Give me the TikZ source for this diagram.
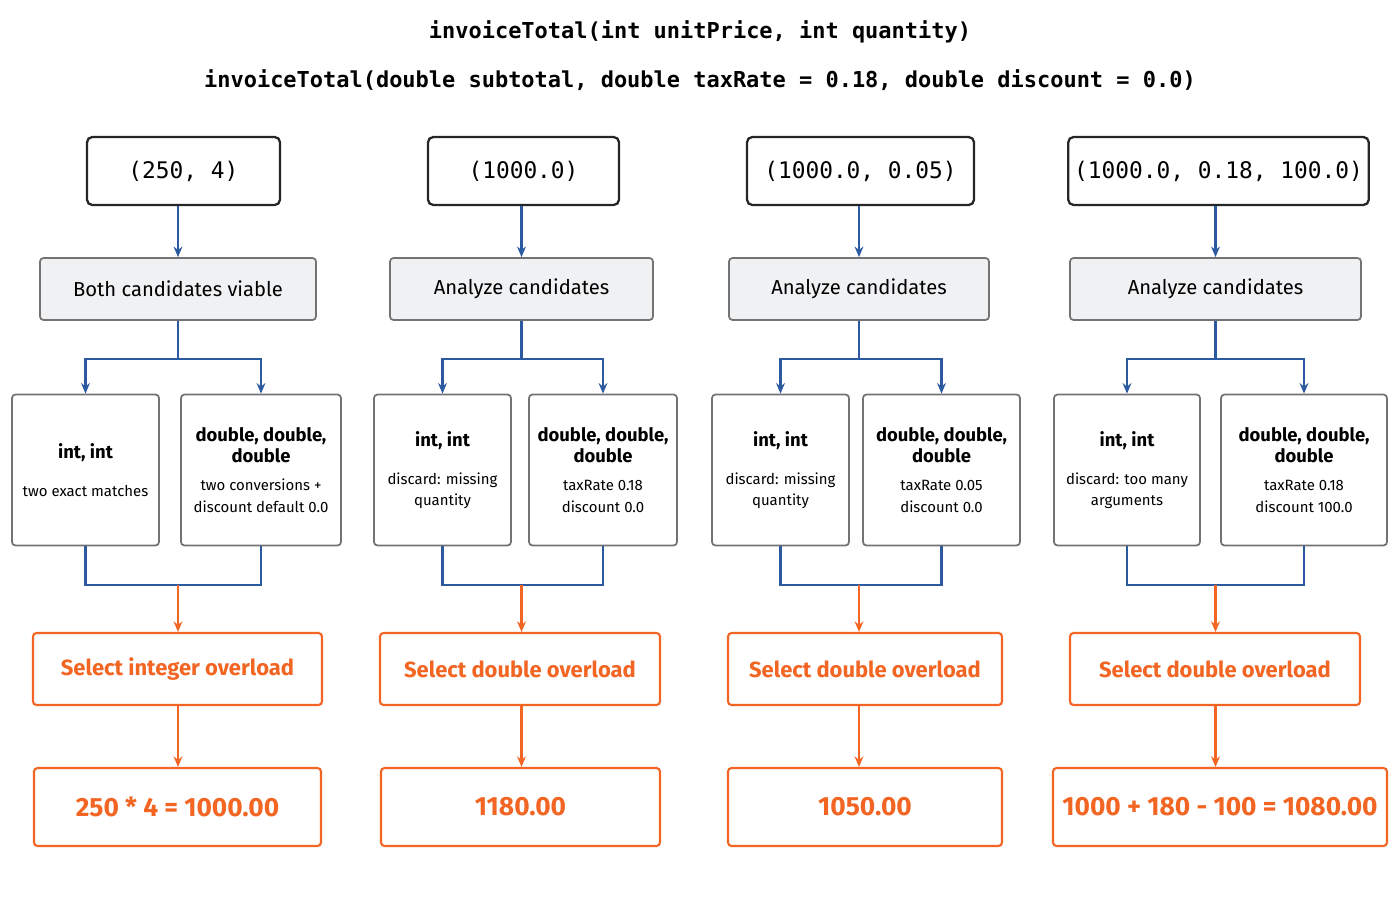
\documentclass[tikz,border=0pt]{standalone}
\usepackage{fontspec}
\setmainfont{Fira Sans}
\setmonofont{DejaVu Sans Mono}
\usetikzlibrary{arrows.meta}
\definecolor{blu}{HTML}{2C5AA0}
\definecolor{org}{HTML}{F26522}
\definecolor{gbox}{HTML}{F0F1F3}
\begin{document}
\begin{tikzpicture}[x=0.02cm,y=-0.02cm,
 inp/.style={draw=black!85,line width=1.3pt,rounded corners=3pt,fill=white,font=\ttfamily\fontsize{13}{15}\selectfont},
 ana/.style={draw=black!55,line width=1pt,rounded corners=2pt,fill=gbox,font=\fontsize{11.5}{14}\selectfont},
 sub/.style={draw=black!55,line width=1pt,rounded corners=2pt,fill=white,align=center,inner sep=1pt},
 sel/.style={draw=org,line width=1.2pt,rounded corners=2pt,fill=white,text=org,font=\bfseries\fontsize{12.5}{15}\selectfont},
 res/.style={draw=org,line width=1.2pt,rounded corners=2pt,fill=white,text=org,font=\bfseries\fontsize{15}{18}\selectfont},
 bl/.style={draw=blu,line width=1.2pt},
 ba/.style={bl,-{Stealth[length=6pt,width=5pt]}},
 oa/.style={draw=org,line width=1.2pt,-{Stealth[length=6pt,width=5pt]}}]
\useasboundingbox (0,0) rectangle (1400,900);
\node[font=\ttfamily\bfseries\fontsize{12.5}{15}\selectfont] (t1) at (700,32) {invoiceTotal(int unitPrice, int quantity)};
\node[font=\ttfamily\bfseries\fontsize{12.5}{15}\selectfont] (t2) at (700,80) {invoiceTotal(double subtotal, double taxRate = 0.18, double discount = 0.0)};
\def\hd#1{{\bfseries\fontsize{10.5}{15}\selectfont #1}}
\def\sm#1{{\fontsize{8.5}{12.5}\selectfont #1}}
\foreach \i/\inl/\inr/\anl/\anr/\sll/\slr/\srl/\srr/\sel/\ser/\rel/\rer/\intext/\antext/\seltext/\restext/\lt/\rt in {
 1/87/280/40/316/12/159/181/341/33/322/34/321/{(250, 4)}/{Both candidates viable}/{Select integer overload}/{250 * 4 = 1000.00}/{\hd{int, int}\\[10pt]\sm{two exact matches}}/{\hd{double, double,}\\\hd{double}\\[4pt]\sm{two conversions +}\\\sm{discount default 0.0}},
 2/428/619/390/653/374/511/529/677/380/660/381/660/{(1000.0)}/{Analyze candidates}/{Select double overload}/{1180.00}/{\hd{int, int}\\[10pt]\sm{discard: missing}\\\sm{quantity}}/{\hd{double, double,}\\\hd{double}\\[4pt]\sm{taxRate 0.18}\\\sm{discount 0.0}},
 3/747/974/729/989/712/849/863/1020/728/1002/728/1002/{(1000.0, 0.05)}/{Analyze candidates}/{Select double overload}/{1050.00}/{\hd{int, int}\\[10pt]\sm{discard: missing}\\\sm{quantity}}/{\hd{double, double,}\\\hd{double}\\[4pt]\sm{taxRate 0.05}\\\sm{discount 0.0}},
 4/1077/1360/1070/1361/1054/1200/1221/1387/1070/1360/1053/1387/{(1000.0, 0.18, 100.0)}/{Analyze candidates}/{Select double overload}/{1000 + 180 - 100 = 1080.00}/{\hd{int, int}\\[10pt]\sm{discard: too many}\\\sm{arguments}}/{\hd{double, double,}\\\hd{double}\\[4pt]\sm{taxRate 0.18}\\\sm{discount 100.0}}} {
 \node[inp,minimum width=(\inr-\inl)*0.02cm,minimum height=1.36cm] (in\i) at ({(\inl+\inr)/2},171) {\intext};
 \node[ana,minimum width=(\anr-\anl)*0.02cm,minimum height=1.24cm] (an\i) at ({(\anl+\anr)/2},289) {\antext};
 \node[sub,minimum width=(\slr-\sll)*0.02cm,minimum height=3.02cm] (sl\i) at ({(\sll+\slr)/2},470) {\lt};
 \node[sub,minimum width=(\srr-\srl)*0.02cm,minimum height=3.02cm] (sr\i) at ({(\srl+\srr)/2},470) {\rt};
 \node[sel,minimum width=(\ser-\sel)*0.02cm,minimum height=1.44cm] (se\i) at ({(\sel+\ser)/2},669) {\seltext};
 \node[res,minimum width=(\rer-\rel)*0.02cm,minimum height=1.56cm] (re\i) at ({(\rel+\rer)/2},807) {\restext};
 \coordinate (ja\i) at ([yshift=-38*0.02cm]an\i.south);
 \coordinate (jb\i) at ([yshift=-39*0.02cm]sl\i.south -| an\i.south);
 \draw[ba] (an\i.north |- in\i.south) -- (an\i.north);
 \draw[bl] (an\i.south) -- (ja\i);
 \draw[ba] (ja\i) -| (sl\i.north);
 \draw[ba] (ja\i) -| (sr\i.north);
 \draw[bl] (sl\i.south) |- (jb\i) -| (sr\i.south);
 \draw[oa] (jb\i) -- (jb\i |- se\i.north);
 \draw[oa] (jb\i |- se\i.south) -- (jb\i |- re\i.north);
}
\end{tikzpicture}
\end{document}
